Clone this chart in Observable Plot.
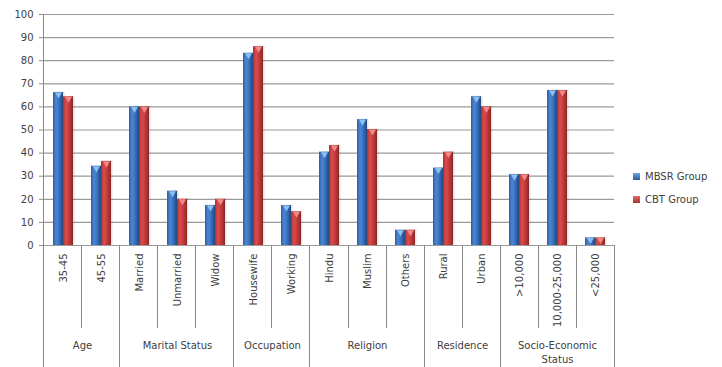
<!DOCTYPE html>
<html>
<head>
<meta charset="utf-8">
<script src="https://cdn.jsdelivr.net/npm/d3@7"></script>
<script src="https://cdn.jsdelivr.net/npm/@observablehq/plot@0.6"></script>
<style>
  html, body { margin: 0; padding: 0; background: #fff; }
  #chart { position: relative; width: 722px; height: 367px; font-family: "DejaVu Sans", sans-serif; }
  #legend { position: absolute; left: 633px; top: 170px; font-size: 10px; color: #404040; }
  #legend .row { display: flex; align-items: center; height: 12px; margin-bottom: 11px; }
  #legend .sw { width: 7px; height: 7px; margin-right: 5px; }
</style>
</head>
<body>
<div id="chart"></div>
<script>
// Sub-categories along the x axis, in order
const categories = ["35-45", "45-55", "Married", "Unmarried", "Widow", "Housewife", "Working",
  "Hindu", "Muslim", "Others", "Rural", "Urban", ">10,000", "10,000-25,000", "<25,000"];
// Outer category labels and how many sub-categories each spans
const groupLabels = ["Age", "Marital Status", "Occupation", "Religion", "Residence", "Socio-Economic\nStatus"];
const groupSizes = [2, 3, 2, 3, 2, 3];
// Series
const seriesNames = ["MBSR Group", "CBT Group"];
const mbsr = [66.2, 34.3, 60, 23.5, 17.3, 83.2, 17.3, 40.4, 54.5, 6.6, 33.5, 64.4, 30.7, 67.1, 3.3];
const cbt  = [64.4, 36.4, 60, 20, 20, 86.1, 14.6, 43.3, 50.2, 6.6, 40.4, 60, 30.7, 67.1, 3.3];
const yTicks = [0, 10, 20, 30, 40, 50, 60, 70, 80, 90, 100];

(function () {
const rows = categories.flatMap((c, i) => [
  {category: c, series: seriesNames[0], value: mbsr[i]},
  {category: c, series: seriesNames[1], value: cbt[i]}
]);

// Place each outer label under the middle of its span
const groups = [];
let start = 0;
groupLabels.forEach((label, i) => {
  const n = groupSizes[i];
  const odd = n % 2 === 1;
  groups.push({label, odd, anchor: categories[start + (odd ? (n - 1) / 2 : n / 2 - 1)]});
  start += n;
});

const textColor = "#404040";
const fills = {"MBSR Group": "url(#gradBlue)", "CBT Group": "url(#gradRed)"};
const caps = {"MBSR Group": "#8cc0f2", "CBT Group": "#f08a8a"};

const plot = Plot.plot({
  width: 722,
  height: 367,
  marginTop: 14,
  marginLeft: 43,
  marginRight: 108,
  marginBottom: 122,
  style: {fontFamily: "DejaVu Sans, sans-serif", fontSize: "10px", color: textColor, background: "#fff"},
  fx: {domain: categories, paddingInner: 0, paddingOuter: 0, axis: null, label: null},
  x: {domain: seriesNames, paddingInner: 0, paddingOuter: 0.73, axis: null},
  y: {domain: [0, 100], axis: null},
  marks: [
    Plot.gridY(yTicks, {stroke: "#9a9a9a", strokeOpacity: 1, strokeWidth: 1.2}),
    Plot.axisY(yTicks, {tickSize: 5, tickPadding: 6, stroke: "#8a8a8a", fill: textColor, label: null}),
    // soft shadow to the right of each bar
    ...seriesNames.map(s => Plot.barY(rows.filter(d => d.series === s),
      {fx: "category", x: "series", y: "value", fill: "#000", fillOpacity: 0.1, dx: 1.5, dy: -0.5})),
    ...seriesNames.map(s => Plot.barY(rows.filter(d => d.series === s),
      {fx: "category", x: "series", y: "value", fill: fills[s]})),
    // light chevron at the top of each bar
    ...seriesNames.map(s => Plot.dot(rows.filter(d => d.series === s),
      {fx: "category", x: "series", y: "value", symbol: "triangle", rotate: 180, r: 2.6, dy: 2, fill: caps[s], stroke: "none"})),
    // sub-category labels, rotated
    Plot.text(categories, {fx: d => d, text: d => d, frameAnchor: "bottom", dy: 8, rotate: -90,
      textAnchor: "end", lineAnchor: "middle", fill: textColor}),
    // outer category labels
    Plot.text(groups.filter(g => g.odd), {fx: "anchor", text: "label", frameAnchor: "bottom", dy: 94,
      textAnchor: "middle", lineAnchor: "top", lineHeight: 1.35, fill: textColor}),
    Plot.text(groups.filter(g => !g.odd), {fx: "anchor", text: "label", frameAnchor: "bottom-right", dy: 94,
      textAnchor: "middle", lineAnchor: "top", lineHeight: 1.35, fill: textColor})
  ]
});

// gradients used by the bars
const svg = d3.select(plot.tagName === "svg" ? plot : plot.querySelector("svg"));
const defs = svg.insert("defs", ":first-child");
function grad(id, stops) {
  const g = defs.append("linearGradient").attr("id", id).attr("x1", "0").attr("x2", "1").attr("y1", "0").attr("y2", "0");
  stops.forEach(([o, c]) => g.append("stop").attr("offset", o).attr("stop-color", c));
}
grad("gradBlue", [["0", "#2f5c9c"], ["0.3", "#4a87d6"], ["0.55", "#3d76c4"], ["0.85", "#2b5797"], ["1", "#22467c"]]);
grad("gradRed", [["0", "#a83232"], ["0.3", "#dc4c4c"], ["0.55", "#c93d3d"], ["0.85", "#a42f2f"], ["1", "#842424"]]);

// category dividers, drawn from the fx band scale
const fxs = plot.scale("fx");
const band = d3.scaleBand().domain(fxs.domain).range(fxs.range)
  .paddingInner(fxs.paddingInner ?? 0).paddingOuter(fxs.paddingOuter ?? 0).align(fxs.align ?? 0.5);
const ys = plot.scale("y");
const yScale = d3.scaleLinear().domain(ys.domain).range(ys.range);
const yBase = yScale(0), yTop = yScale(100), H = 367;
const groupStarts = new Set();
let acc = 0;
groupSizes.forEach(n => { groupStarts.add(acc); acc += n; });
const lines = svg.append("g").attr("stroke", "#8a8a8a").attr("stroke-width", 1);
categories.forEach((c, i) => {
  const x = Math.round(band(c)) + 0.5;
  if (groupStarts.has(i)) {
    lines.append("line").attr("x1", x).attr("x2", x).attr("y1", i === 0 ? yTop : yBase).attr("y2", H);
  } else {
    lines.append("line").attr("x1", x).attr("x2", x).attr("y1", yBase).attr("y2", yBase + 83);
  }
});
const xEnd = Math.round(band(categories[categories.length - 1]) + band.bandwidth()) + 0.5;
lines.append("line").attr("x1", xEnd).attr("x2", xEnd).attr("y1", yBase).attr("y2", H);

const chart = document.getElementById("chart");
chart.appendChild(plot);

// legend
const legend = d3.select(chart).append("div").attr("id", "legend");
seriesNames.forEach(s => {
  const row = legend.append("div").attr("class", "row");
  row.append("div").attr("class", "sw")
    .style("background", s === seriesNames[0]
      ? "linear-gradient(#6aa4e6, #2f5c9c)" : "linear-gradient(#e66a6a, #a83232)");
  row.append("span").text(s);
});
})();
</script>
</body>
</html>
